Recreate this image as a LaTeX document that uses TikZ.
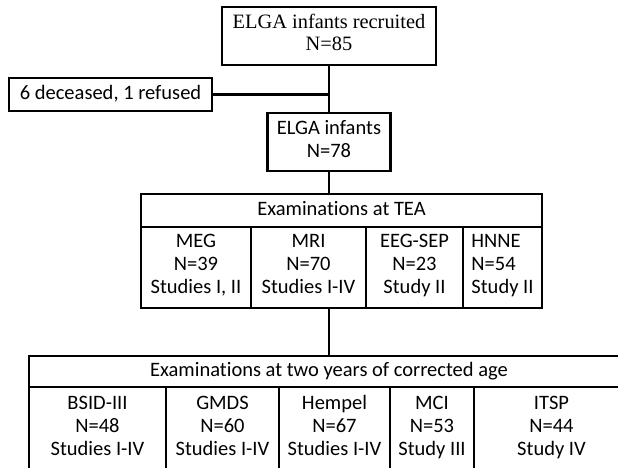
\documentclass[tikz,border=0pt]{standalone}
\usepackage{fontspec}
\setmainfont{Liberation Serif}
\newfontfamily\calibri[Ligatures=NoCommon]{Carlito}
\usetikzlibrary{positioning}

\begin{document}
\begin{tikzpicture}[x=1pt,y=-1pt,
    caja/.style={draw, line width=2.8pt, inner sep=0pt, align=center,
      font=\calibri\fontsize{20.5}{23}\selectfont,
      execute at begin node=\strut, execute at end node=\strut},
    linea/.style={line width=2.3pt}]
  \useasboundingbox (0,0) rectangle (618,468);
  \clip (0,0) rectangle (618,468);
  %Reclutamiento
  \node[caja, minimum width=214pt, minimum height=58pt,
    execute at begin node={}, execute at end node={},
    font=\rmfamily\fontsize{20.4}{22}\selectfont] (recruited) at (329,36) {ELGA infants recruited\\N=85};
  \node[caja, minimum width=203pt, minimum height=33pt] (excluded) at (110.5,94.5) {6 deceased, 1 refused};
  \node[caja, minimum width=123pt, minimum height=58pt] (infants) at (329,142) {ELGA infants\\N=78};
  %Tabla TEA
  \node[caja, minimum width=401pt, minimum height=33pt] (teahead) at (341.5,210.5) {Examinations at TEA};
  \node[caja, minimum width=110pt, minimum height=81pt] (meg) at (196,267.5) {MEG\\N=39\\Studies I, II};
  \node[caja, minimum width=115pt, minimum height=81pt] (mri) at (308.5,267.5) {MRI\\N=70\\Studies I-IV};
  \node[caja, minimum width=97pt, minimum height=81pt] (eeg) at (414.5,267.5) {EEG-SEP\\N=23\\Study II};
  \node[caja, minimum width=79pt, minimum height=81pt, align=left] (hnne) at (502.5,267.5) {HNNE\\N=54\\Study II};
  %Tabla dos anos
  \node[caja, minimum width=600pt, minimum height=31pt] (twohead) at (329,371.5) {Examinations at two years of corrected age};
  \node[caja, minimum width=137pt, minimum height=84pt] (bsid) at (97.5,429) {BSID-III\\N=48\\Studies I-IV};
  \node[caja, minimum width=113pt, minimum height=84pt] (gmds) at (222.5,429) {GMDS\\N=60\\Studies I-IV};
  \node[caja, minimum width=111pt, minimum height=84pt] (hempel) at (334.5,429) {Hempel\\N=67\\Studies I-IV};
  \node[caja, minimum width=84pt, minimum height=84pt] (mci) at (432,429) {MCI\\N=53\\Study III};
  \node[caja, minimum width=155pt, minimum height=84pt] (itsp) at (551.5,429) {ITSP\\N=44\\Study IV};
  %Conexiones
  \draw[linea] (recruited.south) -- (infants.north);
  \draw[linea] (excluded.east) -- (excluded.east -| recruited.south);
  \draw[linea] (infants.south) -- (teahead.north -| infants.south);
  \draw[linea] (twohead.north |- mri.south) -- (twohead.north);
\end{tikzpicture}
\end{document}
